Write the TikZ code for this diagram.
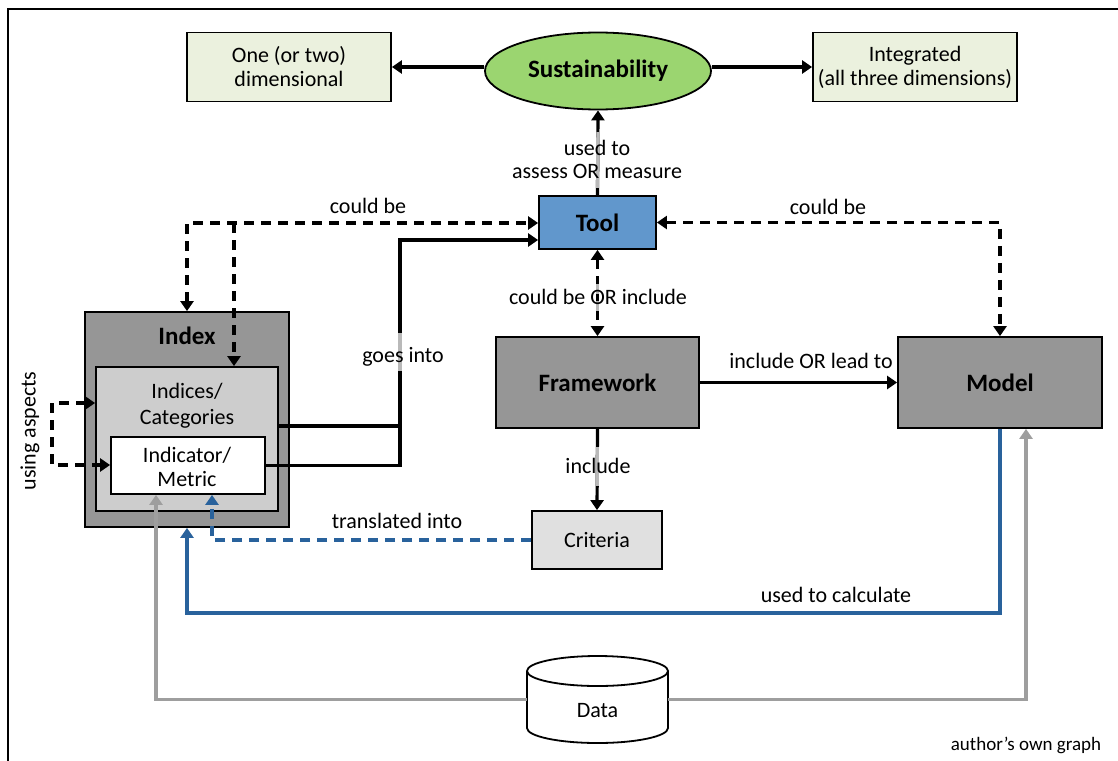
\documentclass[tikz,border=0pt]{standalone}
\usepackage{fontspec}
\setmainfont{Carlito}
\usetikzlibrary{arrows.meta,calc,shapes.geometric}
\definecolor{sgreen}{RGB}{155,213,112}
\definecolor{lgreen}{RGB}{235,241,222}
\definecolor{tblue}{RGB}{97,151,204}
\definecolor{dgray}{RGB}{150,150,150}
\definecolor{mgray}{RGB}{205,205,205}
\definecolor{lgray}{RGB}{224,224,224}
\definecolor{lineblue}{RGB}{41,98,156}
\definecolor{linegray}{RGB}{158,158,158}
\definecolor{seggray}{RGB}{185,185,185}
\newcommand\myreg{\fontsize{22}{24}\selectfont}
\newcommand\mybold{\fontsize{25}{28}\selectfont\bfseries}
\newcommand\mysmall{\fontsize{19}{22}\selectfont}
\begin{document}
\begin{tikzpicture}[x=1pt,y=-1pt,
  box/.style={draw=black, line width=1.8pt, inner sep=0pt, align=center, font=\myreg},
  txt/.style={inner sep=0pt, font=\myreg, anchor=base},
  tip/.tip={Triangle[length=10pt,width=13pt]},
  arr/.style={line width=3.2pt, -tip},
  conn/.style={line width=3.2pt},
  dasharr/.style={line width=3.2pt, dash pattern=on 10pt off 7pt},
  bluearr/.style={line width=3.2pt, lineblue, -tip},
  graycon/.style={line width=3.2pt, linegray, -tip}
]
\useasboundingbox (0,0) rectangle (1118,760);
\fill[white] (0,0) rectangle (1118,760);
% outer frame
\draw[line width=1.5pt] (8,762) -- (8,9) -- (1120,9);

% nodes
\node[box, fill=lgreen, minimum width=204pt, minimum height=69pt] (one) at (289,67) {One (or two)\\dimensional};
\node[box, fill=lgreen, minimum width=204pt, minimum height=69pt] (integ) at (915,67) {Integrated\\(all three dimensions)};
\node[ellipse, draw=black, line width=1.8pt, fill=sgreen, inner sep=0pt, minimum width=226pt, minimum height=77pt, font=\mybold] (sus) at (598,71) {Sustainability};
\node[box, fill=tblue, minimum width=117pt, minimum height=53pt, font=\mybold] (tool) at (597.5,222.5) {Tool};
\node[box, fill=dgray, minimum width=203pt, minimum height=91pt, font=\mybold] (framework) at (597.5,382.5) {Framework};
\node[box, fill=dgray, minimum width=204pt, minimum height=91pt, font=\mybold] (model) at (1000,382.5) {Model};
\node[box, fill=lgray, minimum width=130pt, minimum height=58pt] (criteria) at (597,540) {Criteria};

\node[box, fill=dgray, minimum width=204pt, minimum height=215pt] (index) at (187,419.5) {};
\node[txt, font=\mybold] (indext) at (187,344) {Index};
\node[box, fill=mgray, minimum width=182pt, minimum height=144pt] (indices) at (187,439) {};
\node[txt] (indicest1) at (187,398) {Indices/};
\node[txt] (indicest2) at (187,424) {Categories};
\node[box, fill=white, minimum width=154pt, minimum height=57pt] (indicator) at (188,465.5) {};
\node[txt] (indicatort1) at (187,462) {Indicator/};
\node[txt] (indicatort2) at (187,486) {Metric};

% data cylinder
\node[inner sep=0pt, minimum width=141pt, minimum height=87pt] (data) at (597.5,699.5) {};
\fill[white] (597.5,728) ellipse [x radius=70.5pt, y radius=15pt];
\fill[white] (527,671) rectangle (668,728);
\draw[line width=1.8pt] (527,671) -- (527,728) (668,671) -- (668,728);
\begin{scope}
  \clip (515,728) rectangle (680,750);
  \draw[line width=1.8pt] (597.5,728) ellipse [x radius=70.5pt, y radius=15pt];
\end{scope}
\draw[line width=1.8pt, fill=white] (597.5,671) ellipse [x radius=70.5pt, y radius=15pt];
\node[txt] (datat) at (597.5,717) {Data};

% coordinates
\coordinate (cbl) at (234,223);
\coordinate (gi) at (400,240);
\coordinate (ua1) at (52,403);
\coordinate (ua2) at (52,465);
\coordinate (uc) at (187,613);

% connectors
\draw[arr] (sus.west |- one.east) -- (one.east);
\draw[arr] (sus.east |- integ.west) -- (integ.west);
\draw[arr] (tool.north) -- (sus.south);
\begin{scope}\clip (590,132) rectangle (605,187);
  \draw[conn, seggray] (tool.north) -- (sus.south);
\end{scope}

\draw[dasharr, tip-tip] (index.north) |- (tool.west |- cbl);
\draw[dasharr, -tip] (cbl) -- (cbl |- indices.north);

\draw[arr] ([yshift=13pt]indices.east) -| (gi) -- (tool.west |- gi);
\draw[conn] (indicator.east) -| (gi);
\begin{scope}\clip (390,333) rectangle (410,370);
  \draw[conn, seggray] (indicator.east) -| (gi);
\end{scope}

\draw[dasharr, tip-tip] (tool.east) -| (model.north);

\draw[dasharr, tip-tip] (tool.south) -- (framework.north);
\begin{scope}\clip (590,278) rectangle (605,313);
  \draw[dasharr, seggray] (tool.south) -- (framework.north);
\end{scope}

\draw[arr] (framework.east) -- (model.west);

\draw[arr] (framework.south) -- (criteria.north);
\begin{scope}\clip (590,447) rectangle (605,485);
  \draw[conn, seggray] (framework.south) -- (criteria.north);
\end{scope}

\draw[dasharr, lineblue, -tip] (criteria.west) -| ([xshift=24pt]indicator.south);
\draw[bluearr] (model.south) |- (uc) -- (index.south);
\draw[graycon] (data.west) -| ([xshift=-32pt]indicator.south);
\draw[graycon] (data.east) -| ([xshift=26pt]model.south);

\draw[dasharr, tip-tip] (indices.west |- ua1) -- (ua1) -- (ua2) -- (indicator.west |- ua2);

% labels
\node[txt] (l1a) at (597,155) {used to};
\node[txt] (l1b) at (597,178) {assess OR measure};
\node[txt] (l2) at (368,213) {could be};
\node[txt] (l3) at (828,214) {could be};
\node[txt] (l4) at (598,304) {could be OR include};
\node[txt] (l5) at (403,362) {goes into};
\node[txt] (l6) at (811,368) {include OR lead to};
\node[txt] (l7) at (598,473) {include};
\node[txt] (l8) at (397,528) {translated into};
\node[txt] (l9) at (836,602) {used to calculate};
\node[inner sep=0pt, font=\myreg, rotate=90] (l10) at (30,431) {using aspects};
\node[inner sep=0pt, font=\mysmall, anchor=base] (l11) at (1026,750) {author’s own graph};
\end{tikzpicture}
\end{document}
